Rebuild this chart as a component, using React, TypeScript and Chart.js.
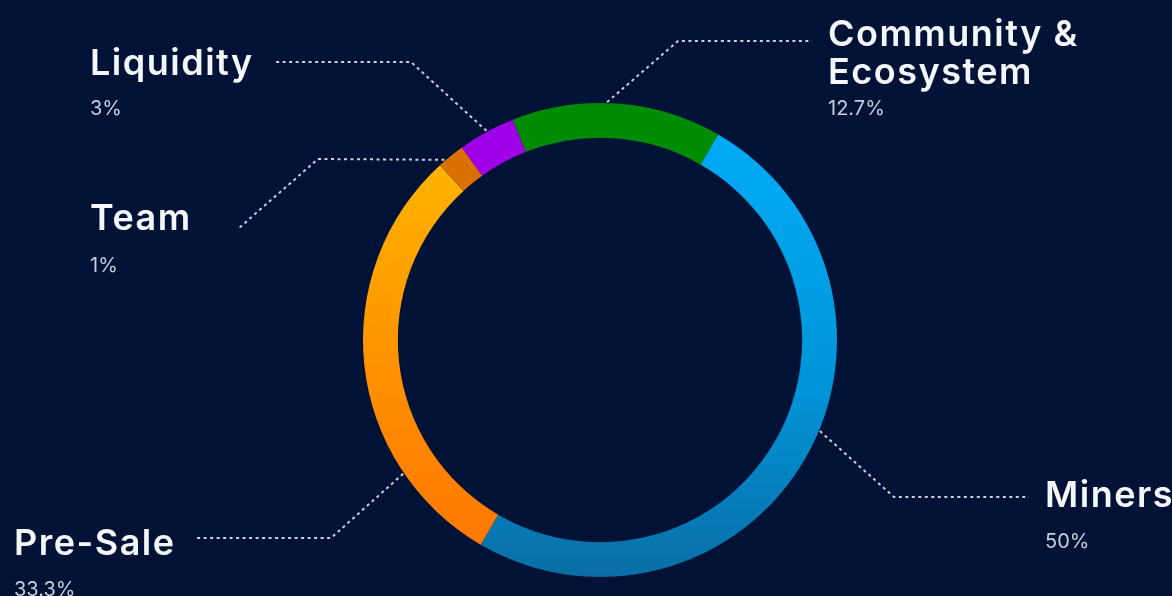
import React, { useEffect, useRef } from "react";
import { Chart, registerables } from "chart.js";

Chart.register(...registerables);

// ---- data ----
const categories = ["Community & Ecosystem", "Miners", "Pre-Sale", "Team", "Liquidity"];
// arc sizes as drawn in the picture (share of the ring, %)
const arcValues = [14.3, 50.1, 29.8, 1.9, 3.9];
// the percentages written next to each label
const percentLabels = ["12.7%", "50%", "33.3%", "1%", "3%"];
const titleLines = [["Community &", "Ecosystem"], ["Miners"], ["Pre-Sale"], ["Team"], ["Liquidity"]];

// ---- styles / layout ----
const BG = "#001336";
const flatColors = ["#008c00", null, null, "#d97000", "#a000e8"];

// callout layout, offsets relative to the doughnut centre
const callouts = [
  { anchorDeg: 1.7, elbow: [78, -299], end: [212, -299], textX: 228, titleY: [-294, -256], pctY: -225 },
  { anchorDeg: 112.5, elbow: [294, 157], end: [429, 157], textX: 445, titleY: [167], pctY: 208 },
  { anchorDeg: 235.8, elbow: [-269, 198], end: [-403, 198], textX: -586, titleY: [215], pctY: 256 },
  { anchorDeg: -40.8, elbow: [-282, -181], end: [-361, -112], textX: -510, titleY: [-110], pctY: -68 },
  { anchorDeg: -28.5, elbow: [-189, -278], end: [-324, -278], textX: -510, titleY: [-265], pctY: -225 },
];

function segmentColor(ctx: any) {
  const i = ctx.dataIndex;
  const chart = ctx.chart;
  const area = chart.chartArea;
  if (!area) return flatColors[i] || "#0098dc";
  if (i === 1) {
    const g = chart.ctx.createLinearGradient(0, area.top, 0, area.bottom);
    g.addColorStop(0, "#00acf6");
    g.addColorStop(0.2, "#00a6ef");
    g.addColorStop(0.6, "#0094d8");
    g.addColorStop(1, "#0a6ea6");
    return g;
  }
  if (i === 2) {
    const g = chart.ctx.createLinearGradient(0, area.top, 0, area.bottom);
    g.addColorStop(0, "#ffbc00");
    g.addColorStop(0.13, "#ffb400");
    g.addColorStop(0.3, "#ffa500");
    g.addColorStop(0.8, "#ff8000");
    g.addColorStop(1, "#ff7600");
    return g;
  }
  return flatColors[i];
}

const calloutPlugin = {
  id: "callouts",
  afterDraw(chart: any) {
    const meta = chart.getDatasetMeta(0);
    const arc = meta.data[0];
    if (!arc) return;
    const cx = arc.x;
    const cy = arc.y;
    const r = arc.outerRadius + 1;
    const ctx = chart.ctx;
    ctx.save();
    callouts.forEach((c, i) => {
      const a = (c.anchorDeg * Math.PI) / 180;
      const ax = cx + r * Math.sin(a);
      const ay = cy - r * Math.cos(a);
      ctx.beginPath();
      ctx.setLineDash([3, 3.5]);
      ctx.lineWidth = 2;
      ctx.strokeStyle = "rgba(225,230,240,0.9)";
      ctx.moveTo(ax, ay);
      ctx.lineTo(cx + c.elbow[0], cy + c.elbow[1]);
      ctx.lineTo(cx + c.end[0], cy + c.end[1]);
      ctx.stroke();
      ctx.setLineDash([]);

      ctx.textAlign = "left";
      ctx.textBaseline = "alphabetic";
      ctx.fillStyle = "#f4f6fa";
      ctx.font = "600 36px Inter, 'Open Sans', sans-serif";
      (ctx as any).letterSpacing = "1.5px";
      titleLines[i].forEach((line, k) => {
        ctx.fillText(line, cx + c.textX, cy + c.titleY[k]);
      });
      ctx.fillStyle = "#c9cdd8";
      ctx.font = "400 20px Inter, 'Open Sans', sans-serif";
      (ctx as any).letterSpacing = "0px";
      ctx.fillText(percentLabels[i], cx + c.textX, cy + c.pctY);
    });
    ctx.restore();
  },
};

export default function App() {
  const canvasRef = useRef<HTMLCanvasElement | null>(null);

  useEffect(() => {
    const canvas = canvasRef.current;
    if (!canvas) return;
    const chart = new Chart(canvas, {
      type: "doughnut",
      data: {
        labels: categories,
        datasets: [
          {
            data: arcValues,
            backgroundColor: segmentColor as any,
            borderWidth: 0,
            hoverOffset: 0,
          },
        ],
      },
      options: {
        animation: false,
        responsive: false,
        maintainAspectRatio: false,
        rotation: -21.6,
        cutout: "85.3%",
        layout: { padding: { top: 103, bottom: 19, left: 363, right: 335 } },
        plugins: {
          legend: { display: false },
          tooltip: { enabled: false },
        },
      },
      plugins: [calloutPlugin],
    });
    return () => chart.destroy();
  }, []);

  return (
    <div
      style={{
        position: "fixed",
        left: 0,
        top: 0,
        width: 1172,
        height: 596,
        background: BG,
        overflow: "hidden",
      }}
    >
      <canvas ref={canvasRef} width={1172} height={596} style={{ display: "block" }} />
    </div>
  );
}
